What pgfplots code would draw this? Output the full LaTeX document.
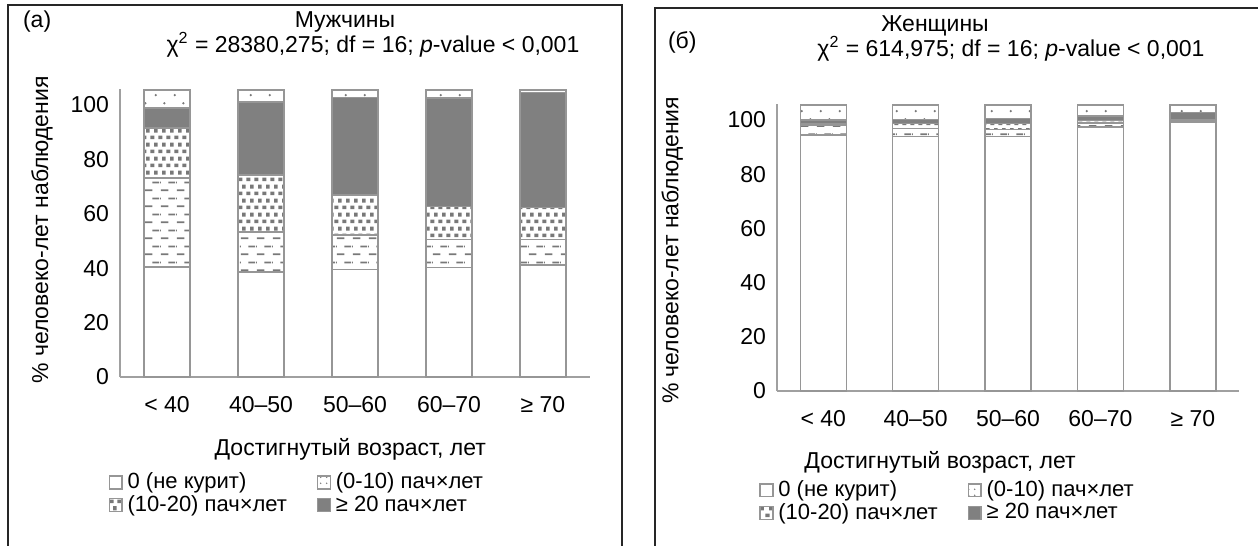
\documentclass[border=0pt]{standalone}
\usepackage{fontspec}
\setmainfont{Liberation Sans}
\usepackage{pgfplots}
\usepackage{pgfplotstable}
\pgfplotsset{compat=1.18}
\usetikzlibrary{patterns}

\definecolor{barline}{RGB}{150,150,150}
\definecolor{patgray}{RGB}{120,120,120}
\definecolor{darkfill}{RGB}{128,128,128}
\definecolor{axisgray}{RGB}{160,160,160}

\pgfdeclarepatternformonly{hdash}{\pgfqpoint{0pt}{0pt}}{\pgfqpoint{8pt}{8pt}}{\pgfqpoint{8pt}{8pt}}{%
  \pgfsetlinewidth{0.9pt}%
  \pgfpathmoveto{\pgfqpoint{0.5pt}{2pt}}\pgfpathlineto{\pgfqpoint{4.5pt}{2pt}}%
  \pgfpathmoveto{\pgfqpoint{4.5pt}{6pt}}\pgfpathlineto{\pgfqpoint{8pt}{6pt}}%
  \pgfpathmoveto{\pgfqpoint{0pt}{6pt}}\pgfpathlineto{\pgfqpoint{0.5pt}{6pt}}%
  \pgfusepath{stroke}}
\pgfdeclarepatternformonly{dsq}{\pgfqpoint{0pt}{0pt}}{\pgfqpoint{4.2pt}{7pt}}{\pgfqpoint{4.2pt}{7pt}}{%
  \pgfpathrectangle{\pgfqpoint{0.2pt}{0.4pt}}{\pgfqpoint{2.2pt}{1.9pt}}%
  \pgfpathrectangle{\pgfqpoint{2.2pt}{3.9pt}}{\pgfqpoint{1.9pt}{2.2pt}}%
  \pgfusepath{fill}}
\pgfdeclarepatternformonly{sdot}{\pgfqpoint{0pt}{0pt}}{\pgfqpoint{9.5pt}{8pt}}{\pgfqpoint{9.5pt}{8pt}}{%
  \pgfpathcircle{\pgfqpoint{2pt}{1.5pt}}{0.65pt}%
  \pgfpathcircle{\pgfqpoint{6.5pt}{5.5pt}}{0.65pt}%
  \pgfusepath{fill}}
\pgfdeclarepatternformonly{sdotleg}{\pgfqpoint{0pt}{0pt}}{\pgfqpoint{3pt}{3pt}}{\pgfqpoint{3pt}{3pt}}{%
  \pgfpathcircle{\pgfqpoint{1.5pt}{1.5pt}}{0.45pt}%
  \pgfusepath{fill}}

% men: white (0), dashed, dense dots, >=20 (gray), sparse dots top
\pgfplotstableread{
x w d dd g s
0 40.4 32.7 18.4 7.4 6.6
1 38.6 14.7 21.0 26.8 4.4
2 39.6 12.6 14.7 35.9 2.7
3 40.3 10.3 12.0 40.0 2.9
4 41.2 9.4 11.8 42.1 1.0
}\men
\pgfplotstableread{
x w d dd g s
0 94.5 3.7 0.5 1.3 5.5
1 94.0 2.8 2.0 1.5 5.2
2 93.9 2.7 2.2 1.7 5.0
3 97.4 1.5 1.0 1.6 4.0
4 99.3 0.4 0.6 2.4 2.8
}\women

\pgfplotsset{
  panel/.style={
    ybar stacked, bar width=23pt,
    scale only axis, anchor=south west,
    xmin=-0.5, xmax=4.5, ymin=0, ymax=106,
    axis x line=bottom, axis y line=left,
    axis line style={axisgray, line width=0.8pt, -},
    xtick={0,1,2,3,4},
    xticklabels={< 40, 40–50, 50–60, 60–70, ≥ 70},
    ytick={0,20,40,60,80,100},
    major tick length=0pt,
    /pgf/number format/assume math mode=true,
    tick label style={font=\fontsize{11.5}{13}\selectfont},
    xticklabel style={yshift=-6pt},
    yticklabel style={xshift=-2pt},
    label style={font=\fontsize{11.5}{13}\selectfont},
    ylabel={\% человеко-лет наблюдения},
    xlabel={Достигнутый возраст, лет},
    legend columns=2,
    legend cell align=left,
    legend image code/.code={\draw[#1] (0pt,-3.2pt) rectangle (6.4pt,3.2pt);},
    legend style={draw=none, fill=none, inner sep=0pt, anchor=north west,
      font=\fontsize{11}{13}\selectfont,
      nodes={inner sep=0.9pt},
      /tikz/every odd column/.style={column sep=1.5pt},
      /tikz/every even column/.style={column sep=14pt}},
  },
  s0/.style={fill=white, draw=barline, line width=0.7pt},
  s1/.style={draw=barline, line width=0.7pt, pattern=hdash, pattern color=patgray},
  s2/.style={draw=barline, line width=0.7pt, pattern=dsq, pattern color=patgray},
  s3/.style={fill=darkfill, draw=barline, line width=0.7pt},
  s4/.style={draw=barline, line width=0.7pt, pattern=sdot, pattern color=patgray},
  s4leg/.style={draw=barline, line width=0.7pt, pattern=sdotleg, pattern color=patgray},
}

\begin{document}
\begin{tikzpicture}
\useasboundingbox (0,0) rectangle (629pt,273pt);
\draw[line width=0.8pt, black!85] (4pt,-2pt) -- (4pt,270.5pt) -- (311pt,270.5pt) -- (311pt,-2pt);
\draw[line width=0.8pt, black!85] (327.5pt,-2pt) -- (327.5pt,269pt) -- (632pt,269pt);

\node[anchor=west, font=\fontsize{11.5}{13}\selectfont] at (8pt,262pt) {(a)};
\node[font=\fontsize{11.5}{13}\selectfont] at (172.5pt,262pt) {Мужчины};
\node[font=\fontsize{11.5}{13}\selectfont] at (186.5pt,250.5pt) {χ\textsuperscript{2} = 28380,275; df = 16; \textit{p}-value < 0,001};

\node[anchor=west, font=\fontsize{11.5}{13}\selectfont] at (330.5pt,252pt) {(б)};
\node[font=\fontsize{11.5}{13}\selectfont] at (467.5pt,260pt) {Женщины};
\node[font=\fontsize{11.5}{13}\selectfont] at (505.5pt,248.5pt) {χ\textsuperscript{2} = 614,975; df = 16; \textit{p}-value < 0,001};

\begin{axis}[panel, at={(60pt,84.5pt)}, width=235pt, height=144.2pt,
  ylabel style={at={(axis description cs:-0.166,0.51)}, anchor=center},
  xlabel style={at={(axis description cs:0.49,-0.25)}, anchor=center},
  legend style={at={(axis description cs:-0.025,-0.325)}},
]
\addlegendimage{s0}\addlegendentry{0 (не курит)}
\addlegendimage{s4leg}\addlegendentry{(0-10) пач×лет}
\addlegendimage{s2}\addlegendentry{(10-20) пач×лет}
\addlegendimage{s3}\addlegendentry{≥ 20 пач×лет}
\addplot[s0, forget plot] table[x=x, y=w] {\men};
\addplot[s1, forget plot] table[x=x, y=d] {\men};
\addplot[s2, forget plot] table[x=x, y=dd] {\men};
\addplot[s3, forget plot] table[x=x, y=g] {\men};
\addplot[s4, forget plot] table[x=x, y=s] {\men};
\end{axis}

\begin{axis}[panel, at={(388.5pt,77.5pt)}, width=231pt, height=143.6pt,
  ylabel style={at={(axis description cs:-0.227,0.49)}, anchor=center},
  xlabel style={at={(axis description cs:0.353,-0.25)}, anchor=center},
  legend style={at={(axis description cs:-0.039,-0.305)}},
]
\addlegendimage{s0}\addlegendentry{0 (не курит)}
\addlegendimage{s4leg}\addlegendentry{(0-10) пач×лет}
\addlegendimage{s2}\addlegendentry{(10-20) пач×лет}
\addlegendimage{s3}\addlegendentry{≥ 20 пач×лет}
\addplot[s0, forget plot] table[x=x, y=w] {\women};
\addplot[s1, forget plot] table[x=x, y=d] {\women};
\addplot[s2, forget plot] table[x=x, y=dd] {\women};
\addplot[s3, forget plot] table[x=x, y=g] {\women};
\addplot[s4, forget plot] table[x=x, y=s] {\women};
\end{axis}
\end{tikzpicture}
\end{document}
